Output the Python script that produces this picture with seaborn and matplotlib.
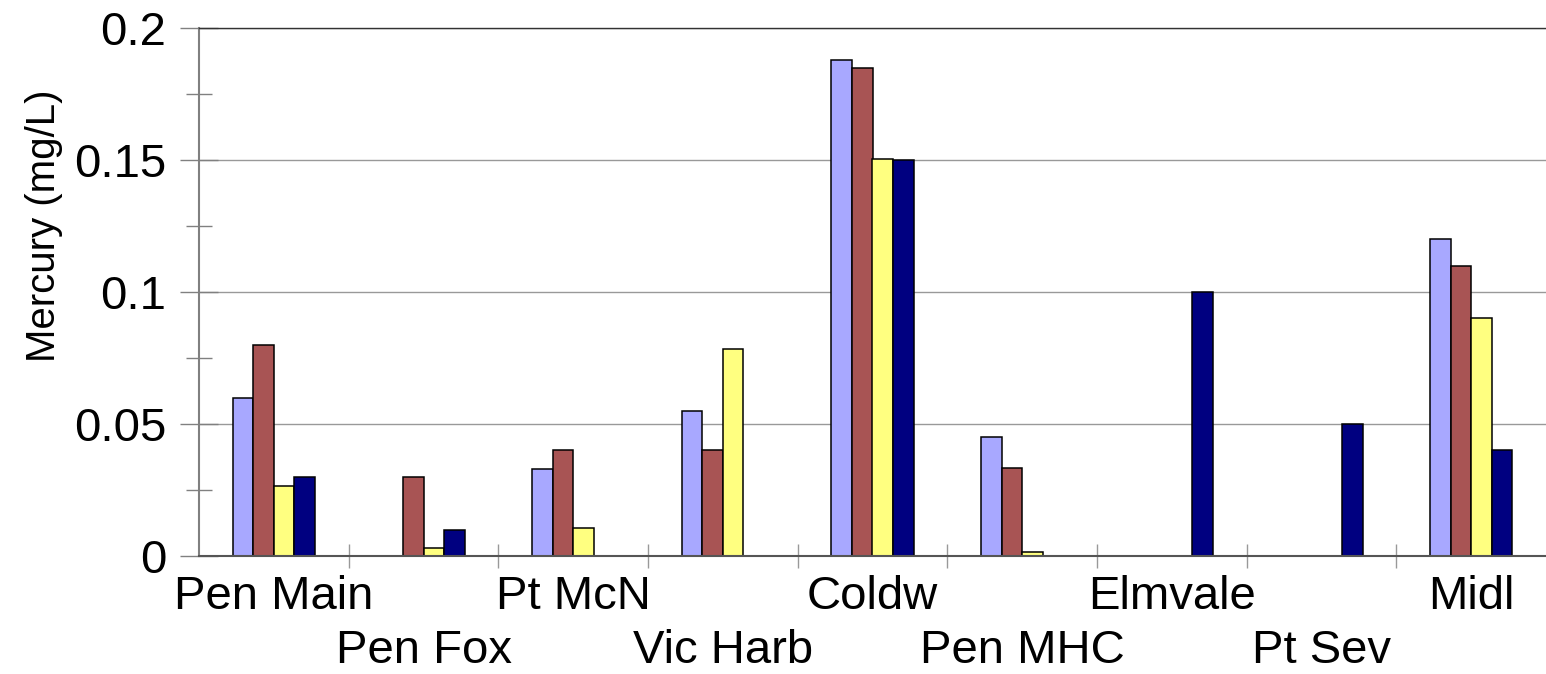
import numpy as np
import pandas as pd
import seaborn as sns
import matplotlib
matplotlib.use("Agg")
import matplotlib.pyplot as plt
from matplotlib.transforms import ScaledTranslation
from matplotlib.ticker import FixedLocator

sites = ["Pen Main", "Pen Fox", "Pt McN", "Vic Harb", "Coldw",
         "Pen MHC", "Elmvale", "Pt Sev", "Midl"]
series_names = ["Series 1", "Series 2", "Series 3", "Series 4"]
nan = np.nan
series1 = [0.060, nan, 0.033, 0.055, 0.188, 0.045, nan, nan, 0.120]
series2 = [0.080, 0.030, 0.040, 0.040, 0.185, 0.0335, nan, nan, 0.110]
series3 = [0.0265, 0.003, 0.0105, 0.0785, 0.1505, 0.0016, nan, nan, 0.090]
series4 = [0.030, 0.010, nan, nan, 0.150, nan, 0.100, 0.050, 0.040]
colors = ["#A8A8FF", "#A85454", "#FFFF80", "#000080"]
yticks = [0, 0.05, 0.1, 0.15, 0.2]
ytick_labels = ["0", "0.05", "0.1", "0.15", "0.2"]
ylabel = "Mercury (mg/L)"

rows = []
for name, vals in zip(series_names, [series1, series2, series3, series4]):
    for site, v in zip(sites, vals):
        if not np.isnan(v):
            rows.append({"site": site, "series": name, "value": v})
df = pd.DataFrame(rows)

sns.set_theme(style="white")
plt.rcParams["font.family"] = ["Liberation Sans", "DejaVu Sans"]
plt.rcParams["text.color"] = "black"
plt.rcParams["axes.labelcolor"] = "black"
plt.rcParams["xtick.labelcolor"] = "black"
plt.rcParams["ytick.labelcolor"] = "black"

fig = plt.figure(figsize=(15.46, 6.74), dpi=100)
ax = fig.add_axes([199 / 1546, 1 - 556 / 674, 1347 / 1546, 528 / 674])

sns.barplot(data=df, x="site", y="value", hue="series", order=sites,
            hue_order=series_names, palette=colors, saturation=1,
            width=0.55, edgecolor="black", linewidth=1.1, legend=False, ax=ax)

ax.set_xlim(-0.5, len(sites) - 0.5)
ax.set_ylim(0, 0.2)
ax.set_yticks(yticks)
ax.set_yticklabels(ytick_labels)
ax.yaxis.set_minor_locator(FixedLocator([0.025, 0.075, 0.125, 0.175]))
ax.grid(axis="y", color="#999999", linewidth=1.0)
ax.set_axisbelow(True)

ax.spines["right"].set_visible(False)
ax.spines["top"].set_color("#333333")
ax.spines["top"].set_linewidth(1.0)
ax.spines["left"].set_color("#808080")
ax.spines["left"].set_linewidth(1.5)
ax.spines["bottom"].set_color("#555555")
ax.spines["bottom"].set_linewidth(1.5)

ax.tick_params(axis="y", which="major", direction="inout", length=27,
               width=1, color="#808080", labelsize=34, pad=10, left=True,
               labelcolor="black")
ax.tick_params(axis="y", which="minor", direction="inout", length=19,
               width=1, color="#808080", left=True)

ax.set_xticks(range(len(sites)))
ax.set_xticklabels(sites)
ax.xaxis.set_minor_locator(FixedLocator([i + 0.5 for i in range(len(sites) - 1)]))
ax.tick_params(axis="x", which="major", length=0, labelsize=34, pad=14,
               labelcolor="black")
ax.tick_params(axis="x", which="minor", direction="inout", length=17,
               width=1, color="#999999", bottom=True)

for i, lbl in enumerate(ax.get_xticklabels()):
    if i % 2 == 1:
        lbl.set_transform(lbl.get_transform() +
                          ScaledTranslation(0, -0.54, fig.dpi_scale_trans))

ax.set_xlabel("")
ax.set_ylabel(ylabel, fontsize=29, color="black")
ax.yaxis.set_label_coords(-0.101, 0.625)

fig.savefig("out.png", dpi=100, facecolor="white")
